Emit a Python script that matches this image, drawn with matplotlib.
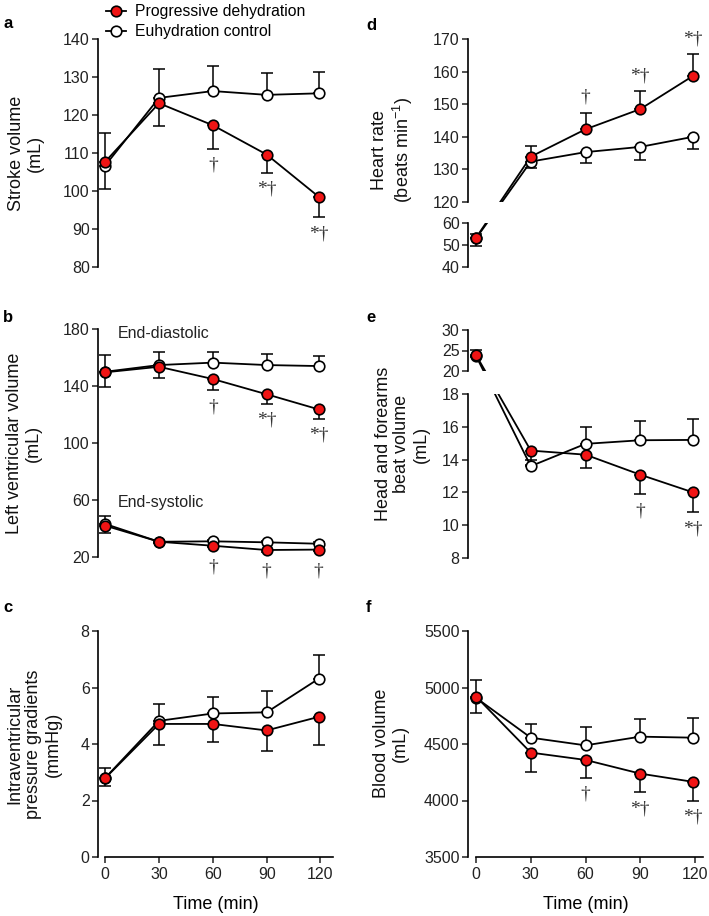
import matplotlib
matplotlib.use('Agg')
import matplotlib.pyplot as plt
from matplotlib.lines import Line2D

plt.rcParams['font.family'] = ['Liberation Sans', 'DejaVu Sans']
plt.rcParams['mathtext.fontset'] = 'custom'
plt.rcParams['mathtext.rm'] = 'Liberation Sans'
plt.rcParams['mathtext.it'] = 'Liberation Sans:italic'

# ---------------- data ----------------
time = [0, 30, 60, 90, 119]
time_ticks = [0, 30, 60, 90, 120]

# a  Stroke volume
sv_dehy = [107.7, 123.1, 117.3, 109.6, 98.5]
sv_dehy_sd = [7.2, 5.9, 6.2, 4.8, 5.4]
sv_ctrl = [106.7, 124.5, 126.3, 125.3, 125.7]
sv_ctrl_sd = [8.5, 7.5, 6.6, 5.8, 5.7]
sv_sig = ['', '', '†', '*†', '*†']

# b  Left ventricular volume
edv_dehy = [149.6, 153.5, 144.9, 134.2, 123.6]
edv_dehy_sd = [10.1, 7.7, 7.7, 6.6, 6.5]
edv_ctrl = [150.0, 154.7, 156.4, 154.7, 154.0]
edv_ctrl_sd = [12.0, 8.9, 7.7, 7.5, 7.3]
edv_sig = ['', '', '†', '*†', '*†']
esv_dehy = [42.0, 30.7, 27.9, 24.9, 25.2]
esv_dehy_sd = [5.4, 1.2, 1.2, 1.2, 1.2]
esv_ctrl = [43.2, 30.7, 31.0, 30.3, 29.3]
esv_ctrl_sd = [5.6, 1.2, 1.2, 1.2, 1.2]
esv_sig = ['', '', '†', '†', '†']

# c  Intraventricular pressure gradients
ipg_dehy = [2.79, 4.71, 4.71, 4.48, 4.96]
ipg_dehy_sd = [0.28, 0.75, 0.64, 0.73, 0.98]
ipg_ctrl = [2.80, 4.82, 5.08, 5.12, 6.31]
ipg_ctrl_sd = [0.36, 0.60, 0.60, 0.77, 0.85]

# d  Heart rate
hr_dehy = [53.3, 133.9, 142.3, 148.5, 158.7]
hr_dehy_sd = [1.5, 3.4, 5.1, 5.5, 6.6]
hr_ctrl = [53.0, 132.4, 135.3, 136.9, 140.0]
hr_ctrl_sd = [3.3, 2.1, 3.2, 4.0, 3.7]
hr_sig = ['', '', '†', '*†', '*†']

# e  Head and forearms beat volume
hf_dehy = [23.9, 14.55, 14.3, 13.08, 12.0]
hf_dehy_sd = [0.5, 0.9, 0.83, 1.2, 1.2]
hf_ctrl = [23.7, 13.6, 14.96, 15.18, 15.2]
hf_ctrl_sd = [1.4, 0.4, 1.05, 1.15, 1.3]
hf_sig = ['', '', '', '†', '*†']

# f  Blood volume
bv_dehy = [4920, 4424, 4359, 4238, 4165]
bv_dehy_sd = [150, 171, 156, 167, 165]
bv_ctrl = [4909, 4556, 4488, 4565, 4556]
bv_ctrl_sd = [159, 120, 165, 156, 170]
bv_sig = ['', '', '†', '*†', '*†']

legend_labels = ['Progressive dehydration', 'Euhydration control']

# ---------------- style ----------------
RED = '#f01414'
LW = 1.3
MS = 7.6
MEW = 1.2
TICK_FS = 11.5
LAB_FS = 13

W, H = 709, 916
DPI = 100
fig = plt.figure(figsize=(W / DPI, H / DPI), dpi=DPI)


def px_box(x0, x1, top, bottom):
    return [x0 / W, 1 - bottom / H, (x1 - x0) / W, (bottom - top) / H]


def style_axes(ax, ylim, yticks, xlim, xaxis=False):
    ax.set_ylim(*ylim)
    ax.set_xlim(*xlim)
    ax.set_yticks(yticks)
    for s in ['top', 'right']:
        ax.spines[s].set_visible(False)
    ax.spines['left'].set_linewidth(1.2)
    ax.tick_params(axis='y', direction='out', length=4, width=1.1,
                   labelsize=TICK_FS, pad=2, colors='#222222')
    if xaxis:
        ax.spines['bottom'].set_linewidth(1.2)
        ax.spines['bottom'].set_bounds(0, xlim[1])
        ax.set_xticks(time_ticks)
        ax.set_xticklabels([str(t) for t in time_ticks])
        ax.tick_params(axis='x', direction='out', length=4, width=1.1,
                       labelsize=TICK_FS, pad=3, colors='#222222')
    else:
        ax.spines['bottom'].set_visible(False)
        ax.set_xticks([])
    ax.patch.set_visible(False)


def draw_series(ax, x, y, sd, down, color, zm):
    n = len(x)
    zeros = [0] * n
    if down:
        yerr = [sd, zeros]
    else:
        yerr = [zeros, sd]
    ax.errorbar(x, y, yerr=yerr, fmt='none', ecolor='black', elinewidth=1.1,
                capsize=4, capthick=1.1, zorder=2, clip_on=False)
    ax.plot(x, y, '-', color='black', lw=LW, zorder=3, clip_on=False)
    ax.plot(x, y, 'o', mfc=color, mec='black', ms=MS, mew=MEW, zorder=zm,
            clip_on=False)


SIG_FAMILY = ['Liberation Serif', 'DejaVu Serif']


def sig(ax, x, y, sd, marks, down, off=12):
    for xi, yi, si, m in zip(x, y, sd, marks):
        if not m:
            continue
        if down:
            ax.annotate(m, (xi, yi - si), xytext=(0, -off), textcoords='offset points',
                        ha='center', va='center', fontsize=14,
                        family=SIG_FAMILY, color='#333333')
        else:
            ax.annotate(m, (xi, yi + si), xytext=(0, off), textcoords='offset points',
                        ha='center', va='center', fontsize=14,
                        family=SIG_FAMILY, color='#333333')


def broken_link(ax_from, ax_to, x0, y0, x1, y1):
    """Straight screen-space segment from (x0,y0) in ax_from to (x1,y1) in ax_to,
    drawn clipped inside each of the two axes (gap between them left empty)."""
    p0 = ax_from.transData.transform((x0, y0))
    p1 = ax_to.transData.transform((x1, y1))
    for host in (ax_from, ax_to):
        inv = host.transData.inverted()
        a = inv.transform(p0)
        b = inv.transform(p1)
        host.plot([a[0], b[0]], [a[1], b[1]], '-', color='black', lw=LW,
                  zorder=3, clip_on=True)


XL_L = (-4, 127)
XL_R = (-4.4, 124.4)
LX0, LX1 = 98, 333
RX0, RX1 = 468, 703

# ---- a ----
ax_a = fig.add_axes(px_box(LX0, LX1, 39, 267))
style_axes(ax_a, (80, 140), range(80, 141, 10), XL_L)
draw_series(ax_a, time, sv_ctrl, sv_ctrl_sd, False, 'white', 4)
draw_series(ax_a, time, sv_dehy, sv_dehy_sd, True, RED, 5)
sig(ax_a, time, sv_dehy, sv_dehy_sd, sv_sig, True)

# ---- b ----
ax_b = fig.add_axes(px_box(LX0, LX1, 329, 557))
style_axes(ax_b, (20, 180), range(20, 181, 40), XL_L)
draw_series(ax_b, time, edv_ctrl, edv_ctrl_sd, False, 'white', 4)
draw_series(ax_b, time, edv_dehy, edv_dehy_sd, True, RED, 5)
draw_series(ax_b, time, esv_ctrl, esv_ctrl_sd, False, 'white', 4)
draw_series(ax_b, time, esv_dehy, esv_dehy_sd, True, RED, 5)
sig(ax_b, time, edv_dehy, edv_dehy_sd, edv_sig, True)
sig(ax_b, time, esv_dehy, esv_dehy_sd, esv_sig, True, off=14)
ax_b.text(7, 177, 'End-diastolic', fontsize=11.5, va='center', ha='left', color='#222222')
ax_b.text(7, 58.5, 'End-systolic', fontsize=11.5, va='center', ha='left', color='#222222')

# ---- c ----
ax_c = fig.add_axes(px_box(LX0, LX1, 631, 857))
style_axes(ax_c, (0, 8), range(0, 9, 2), XL_L, xaxis=True)
draw_series(ax_c, time, ipg_ctrl, ipg_ctrl_sd, False, 'white', 4)
draw_series(ax_c, time, ipg_dehy, ipg_dehy_sd, True, RED, 5)
ax_c.set_xlabel('Time (min)', fontsize=LAB_FS, labelpad=10)

# ---- d (broken axis) ----
ax_du = fig.add_axes(px_box(RX0, RX1, 39, 202))
ax_dl = fig.add_axes(px_box(RX0, RX1, 223, 267))
style_axes(ax_du, (120, 170), range(120, 171, 10), XL_R)
style_axes(ax_dl, (40, 60), range(40, 61, 10), XL_R)
draw_series(ax_du, time[1:], hr_ctrl[1:], hr_ctrl_sd[1:], True, 'white', 4)
draw_series(ax_du, time[1:], hr_dehy[1:], hr_dehy_sd[1:], False, RED, 5)
draw_series(ax_dl, time[:1], hr_ctrl[:1], hr_ctrl_sd[:1], True, 'white', 4)
draw_series(ax_dl, time[:1], hr_dehy[:1], hr_dehy_sd[:1], False, RED, 5)
sig(ax_du, time, hr_dehy, hr_dehy_sd, hr_sig, False, off=11)
for yy in (hr_ctrl, hr_dehy):
    broken_link(ax_dl, ax_du, time[0], yy[0], time[1], yy[1])

# ---- e (broken axis) ----
ax_eu = fig.add_axes(px_box(RX0, RX1, 330, 371))
ax_el = fig.add_axes(px_box(RX0, RX1, 394, 558))
style_axes(ax_eu, (20, 30), [20, 25, 30], XL_R)
style_axes(ax_el, (8, 18), range(8, 19, 2), XL_R)
draw_series(ax_el, time[1:], hf_ctrl[1:], hf_ctrl_sd[1:], False, 'white', 4)
draw_series(ax_el, time[1:], hf_dehy[1:], hf_dehy_sd[1:], True, RED, 5)
draw_series(ax_eu, time[:1], hf_ctrl[:1], hf_ctrl_sd[:1], False, 'white', 4)
draw_series(ax_eu, time[:1], hf_dehy[:1], hf_dehy_sd[:1], True, RED, 5)
sig(ax_el, time, hf_dehy, hf_dehy_sd, hf_sig, True)
for yy in (hf_ctrl, hf_dehy):
    broken_link(ax_eu, ax_el, time[0], yy[0], time[1], yy[1])

# ---- f ----
ax_f = fig.add_axes(px_box(RX0, RX1, 631, 857))
style_axes(ax_f, (3500, 5500), range(3500, 5501, 500), XL_R, xaxis=True)
draw_series(ax_f, time, bv_ctrl, bv_ctrl_sd, False, 'white', 4)
draw_series(ax_f, time, bv_dehy, bv_dehy_sd, True, RED, 5)
sig(ax_f, time, bv_dehy, bv_dehy_sd, bv_sig, True)
ax_f.set_xlabel('Time (min)', fontsize=LAB_FS, labelpad=10)


# ---- y labels ----
def ylab(x, y, s):
    fig.text(x / W, 1 - y / H, s, rotation=90, ha='center', va='center',
             fontsize=LAB_FS, linespacing=1.15, color='#111111')


ylab(26, 153, 'Stroke volume\n(mL)')
ylab(24, 443, 'Left ventricular volume\n(mL)')
ylab(34, 744, 'Intraventricular\npressure gradients\n(mmHg)')
ylab(393, 150, 'Heart rate\n(beats min$^{-1}$)')
ylab(402, 444, 'Head and forearms\nbeat volume\n(mL)')
ylab(391, 743, 'Blood volume\n(mL)')

# ---- panel letters ----
for letter, (x, y) in zip('abcdef', [(3, 24), (3, 317), (3, 607), (366, 25), (366, 317), (366, 607)]):
    fig.text(x / W, 1 - y / H, letter, fontsize=12, fontweight='bold', va='center', ha='left')

# ---- legend ----
handles = [Line2D([], [], color='black', lw=LW, marker='o', mfc=RED, mec='black', ms=MS, mew=MEW),
           Line2D([], [], color='black', lw=LW, marker='o', mfc='white', mec='black', ms=MS, mew=MEW)]
fig.legend(handles, legend_labels, loc='upper left', bbox_to_anchor=(106 / W, 1 - 4 / H),
           frameon=False, fontsize=11.3, handlelength=1.3, handletextpad=0.55,
           labelspacing=0.35, borderpad=0, borderaxespad=0)

fig.savefig('out.png', dpi=DPI)
